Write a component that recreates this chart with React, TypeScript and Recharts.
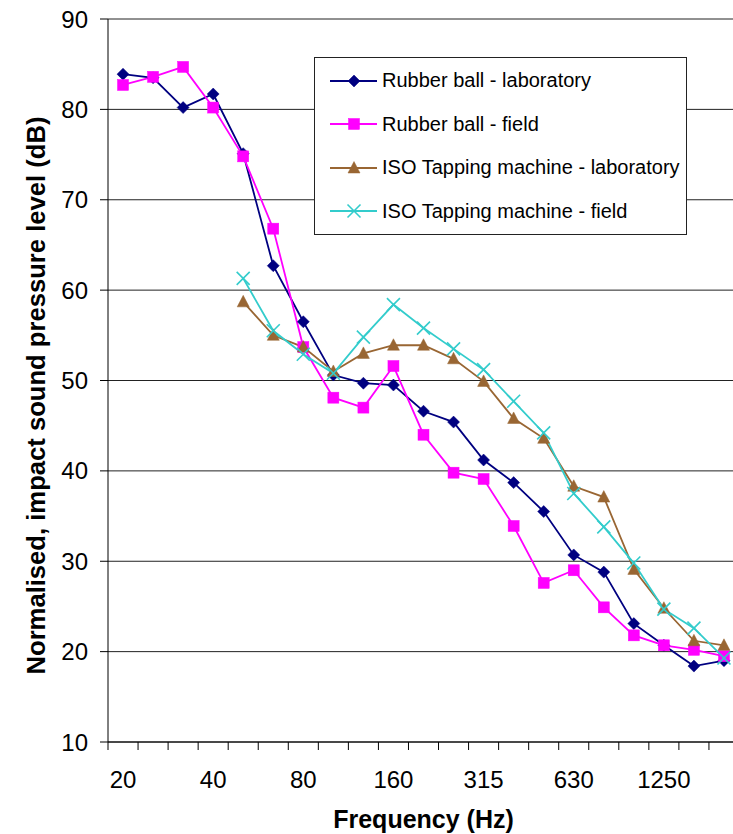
import React from 'react';
import { LineChart, Line, XAxis, YAxis, CartesianGrid, Legend, Label } from 'recharts';

const frequencies = ['20', '25', '31.5', '40', '50', '63', '80', '100', '125', '160', '200', '250', '315', '400', '500', '630', '800', '1000', '1250', '1600', '2000'];
const rubberBallLab = [83.9, 83.5, 80.2, 81.7, 75.1, 62.7, 56.5, 50.6, 49.7, 49.5, 46.6, 45.4, 41.2, 38.7, 35.5, 30.7, 28.8, 23.1, 20.7, 18.4, 19.0];
const rubberBallField = [82.7, 83.6, 84.7, 80.2, 74.8, 66.8, 53.7, 48.1, 47.0, 51.6, 44.0, 39.8, 39.1, 33.9, 27.6, 29.0, 24.9, 21.8, 20.7, 20.2, 19.5];
const isoLab = [null, null, null, null, 58.7, 55.0, 53.7, 51.0, 53.0, 53.9, 53.9, 52.4, 49.9, 45.8, 43.6, 38.3, 37.1, 29.1, 24.8, 21.2, 20.7];
const isoField = [null, null, null, null, 61.3, 55.5, 52.9, 50.8, 54.8, 58.4, 55.8, 53.5, 51.2, 47.7, 44.2, 37.5, 33.8, 29.8, 24.7, 22.6, 19.3];
const yTicks = [10, 20, 30, 40, 50, 60, 70, 80, 90];
const xLabelStep = 3;

const seriesNames = ['Rubber ball - laboratory', 'Rubber ball - field', 'ISO Tapping machine - laboratory', 'ISO Tapping machine - field'];
const seriesKeys = ['rbLab', 'rbField', 'isoLab', 'isoField'];
const seriesColors = ['#000080', '#FF00FF', '#996633', '#33CCCC'];
const seriesShapes = ['diamond', 'square', 'triangle', 'cross'];

const data = frequencies.map((f, i) => ({
  freq: f,
  rbLab: rubberBallLab[i],
  rbField: rubberBallField[i],
  isoLab: isoLab[i],
  isoField: isoField[i],
}));

const FONT = '"Liberation Sans", Arial, sans-serif';

function marker(shape: string, cx: number, cy: number, color: string, key?: any) {
  if (shape === 'diamond') {
    return <path key={key} d={`M${cx},${cy - 6}L${cx + 6},${cy}L${cx},${cy + 6}L${cx - 6},${cy}Z`} fill={color} stroke={color} strokeWidth={0.5} />;
  }
  if (shape === 'square') {
    return <rect key={key} x={cx - 5.5} y={cy - 5.5} width={11} height={11} fill={color} stroke={color} strokeWidth={0.5} />;
  }
  if (shape === 'triangle') {
    return <path key={key} d={`M${cx},${cy - 6.5}L${cx + 6},${cy + 5}L${cx - 6},${cy + 5}Z`} fill={color} stroke={color} strokeWidth={0.5} />;
  }
  return (
    <g key={key}>
      <line x1={cx - 6.5} y1={cy - 6.5} x2={cx + 6.5} y2={cy + 6.5} stroke={color} strokeWidth={1.6} />
      <line x1={cx - 6.5} y1={cy + 6.5} x2={cx + 6.5} y2={cy - 6.5} stroke={color} strokeWidth={1.6} />
    </g>
  );
}

const makeDot = (shape: string, color: string) => (props: any) => {
  const { cx, cy, index, value } = props;
  if (cx == null || cy == null || value == null) return <g key={`e-${index}`} />;
  return marker(shape, cx, cy, color, `d-${index}`);
};

const XTick = (props: any) => {
  const { x, y, payload, index } = props;
  const half = payload && typeof payload.offset === 'number' ? payload.offset : 15;
  return (
    <g>
      <line x1={x - half} x2={x - half} y1={y} y2={y + 8} stroke="#000" strokeWidth={1} />
      {index % xLabelStep === 0 ? (
        <text x={x} y={y + 46} textAnchor="middle" fontSize={24} fill="#000" fontFamily={FONT}>
          {payload.value}
        </text>
      ) : null}
    </g>
  );
};

const YTitle = (props: any) => {
  const vb = props.viewBox || { x: 0, y: 19, width: 108, height: 723 };
  const cx = vb.x + 36;
  const cy = vb.y + vb.height / 2 + 15;
  return (
    <text
      x={cx}
      y={cy}
      transform={`rotate(-90 ${cx} ${cy})`}
      textAnchor="middle"
      dominantBaseline="central"
      fontSize={25}
      fontWeight="bold"
      fill="#000"
      fontFamily={FONT}
      textLength={558}
      lengthAdjust="spacingAndGlyphs"
    >
      Normalised, impact sound pressure level (dB)
    </text>
  );
};

const XTitle = (props: any) => {
  const vb = props.viewBox || { x: 108, y: 742, width: 631, height: 92 };
  return (
    <text x={vb.x + vb.width / 2} y={vb.y + 86} textAnchor="middle" fontSize={25} fontWeight="bold" fill="#000" fontFamily={FONT}>
      Frequency (Hz)
    </text>
  );
};

const renderLegend = () => (
  <div
    style={{
      width: 373,
      height: 178,
      boxSizing: 'border-box',
      border: '1px solid #222',
      background: '#fff',
      paddingTop: 1,
      fontFamily: FONT,
    }}
  >
    {seriesNames.map((name, i) => (
      <div key={name} style={{ height: 43.5, display: 'flex', alignItems: 'center' }}>
        <svg width={64} height={20} style={{ display: 'block', flex: 'none' }}>
          <line x1={15} x2={62} y1={10} y2={10} stroke={seriesColors[i]} strokeWidth={2} />
          {marker(seriesShapes[i], 39, 10, seriesColors[i])}
        </svg>
        <span style={{ fontSize: 20, color: '#000', marginLeft: 3, whiteSpace: 'nowrap' }}>{name}</span>
      </div>
    ))}
  </div>
);

export default function App() {
  return (
    <div style={{ position: 'fixed', left: 0, top: 0, width: 733, height: 834, overflow: 'hidden', background: '#fff' }}>
      <LineChart width={745} height={834} data={data} margin={{ top: 19, right: 6, bottom: 0, left: 0 }}>
        <CartesianGrid vertical={false} stroke="#222" strokeWidth={1} />
        <XAxis
          dataKey="freq"
          type="category"
          scale="band"
          interval={0}
          height={92}
          tickSize={0}
          tickMargin={0}
          tickLine={false}
          axisLine={{ stroke: '#000' }}
          tick={<XTick />}
        >
          <Label content={<XTitle />} />
        </XAxis>
        <YAxis
          type="number"
          domain={[10, 90]}
          ticks={yTicks}
          interval={0}
          width={108}
          tickSize={8}
          tickMargin={12}
          axisLine={{ stroke: '#000' }}
          tickLine={{ stroke: '#000' }}
          tick={{ fontSize: 24, fill: '#000', fontFamily: FONT }}
        >
          <Label content={<YTitle />} />
        </YAxis>
        <Legend
          layout="vertical"
          align="center"
          verticalAlign="middle"
          content={renderLegend}
          wrapperStyle={{ left: 314, top: 57, width: 373, height: 178 }}
        />
        {seriesKeys.map((k, i) => (
          <Line
            key={k}
            dataKey={k}
            name={seriesNames[i]}
            stroke={seriesColors[i]}
            strokeWidth={1.8}
            dot={makeDot(seriesShapes[i], seriesColors[i])}
            activeDot={false}
            isAnimationActive={false}
          />
        ))}
      </LineChart>
    </div>
  );
}
